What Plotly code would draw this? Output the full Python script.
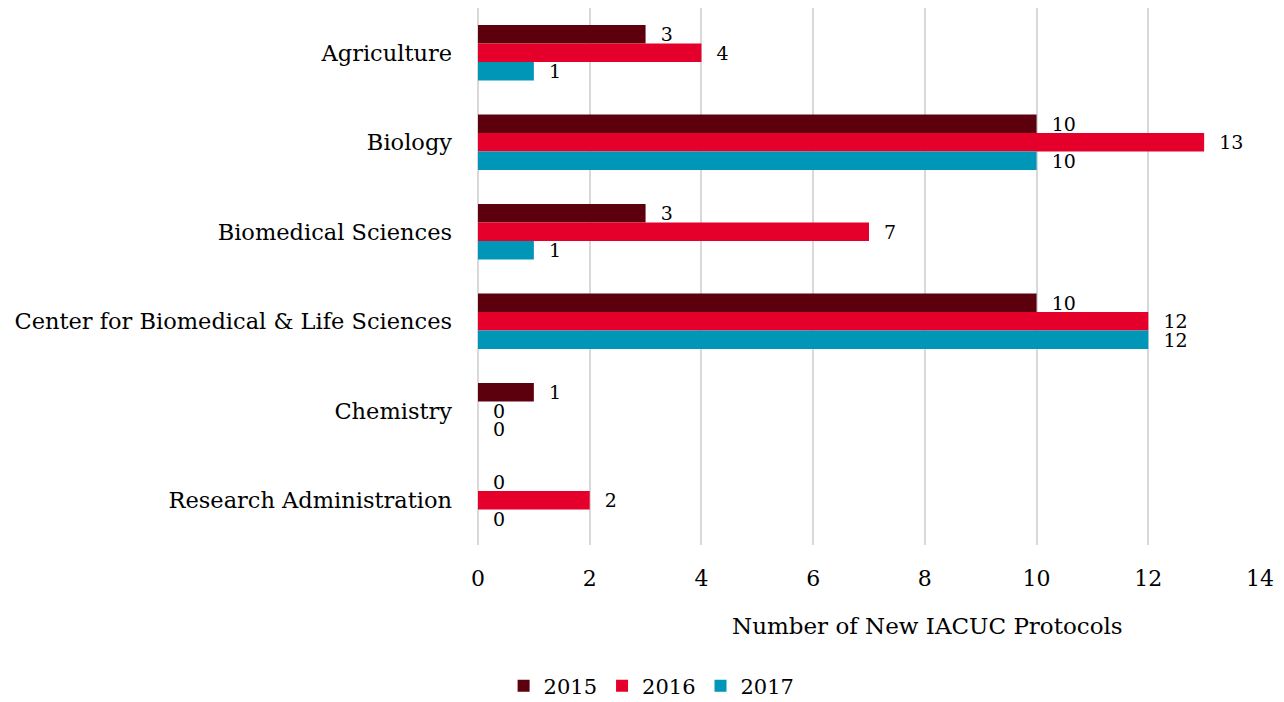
import plotly.graph_objects as go

categories = ["Agriculture", "Biology", "Biomedical Sciences",
              "Center for Biomedical & Life Sciences", "Chemistry",
              "Research Administration"]
years = ["2015", "2016", "2017"]
v2015 = [3, 10, 3, 10, 1, 0]
v2016 = [4, 13, 7, 12, 0, 2]
v2017 = [1, 10, 1, 12, 0, 0]
colors = ["#5C000E", "#E4002B", "#0096B7"]
xticks = [0, 2, 4, 6, 8, 10, 12, 14]

FONT = "DejaVu Serif"

fig = go.Figure()
for name, vals, col in zip(years, [v2015, v2016, v2017], colors):
    fig.add_trace(go.Bar(
        y=categories, x=vals, name=name, orientation="h",
        marker=dict(color=col, line=dict(width=0)),
        text=["  " + str(v) for v in vals], textposition="outside",
        constraintext="none",
        textfont=dict(family=FONT, size=19, color="#000000"),
        cliponaxis=False,
    ))

fig.update_layout(
    barmode="group", bargap=0.38, bargroupgap=0,
    width=1284, height=702,
    margin=dict(l=470, r=32, t=0, b=165),
    plot_bgcolor="white", paper_bgcolor="white",
    font=dict(family=FONT, size=22, color="#000000"),
    showlegend=True,
    legend=dict(orientation="h", x=0.222, xanchor="center", y=-0.2626, yanchor="middle",
                font=dict(family=FONT, size=21), itemwidth=30, traceorder="normal"),
    xaxis=dict(range=[0, 14], tickvals=xticks, showgrid=True, gridcolor="#D9D9D9",
               gridwidth=2, zeroline=True, zerolinecolor="#D9D9D9", zerolinewidth=2,
               tickfont=dict(family=FONT, size=22), ticks="", showline=False,
               automargin=False, ticklabelstandoff=18),
    yaxis=dict(autorange="reversed", showgrid=False, ticks="", showline=False,
               tickfont=dict(family=FONT, size=22.5), automargin=False,
               ticklabelstandoff=25),
    annotations=[dict(text="Number of New IACUC Protocols", xref="paper", yref="paper",
                      x=0.5754, y=-0.1508, xanchor="center", yanchor="middle",
                      showarrow=False, font=dict(family=FONT, size=23))],
)

fig.write_html("out.html")
